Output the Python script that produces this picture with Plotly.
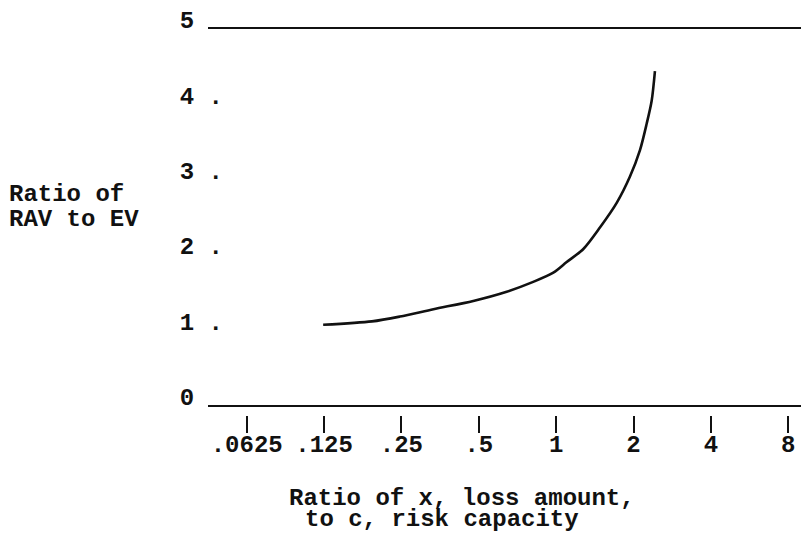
import math
import plotly.graph_objects as go

# Data
loss_ratio = [0.124, 0.192, 0.247, 0.333, 0.476, 0.642, 0.814, 0.975, 1.099,
              1.276, 1.48, 1.72, 1.937, 2.119, 2.25, 2.353, 2.423]
rav_to_ev = [1.07, 1.115, 1.18, 1.277, 1.387, 1.509, 1.64, 1.762, 1.903,
             2.077, 2.362, 2.69, 3.04, 3.39, 3.74, 4.046, 4.44]

x_tickvals = [0.0625, 0.125, 0.25, 0.5, 1, 2, 4, 8]
x_ticktext = [".0625", ".125", ".25", ".5", "1", "2", "4", "8"]
y_tickvals = [0, 1, 2, 3, 4, 5]
y_ticktext = ["0\u00a0\u00a0", "1 .", "2 .", "3 .", "4 .", "5\u00a0\u00a0"]

y_title_lines = ["Ratio of", "RAV to EV"]
x_title_lines = ["Ratio of x, loss amount,", "to c, risk capacity"]

FONT = "Liberation Mono"
FS = 24
INK = "#111111"

OFF = 8          # page body margin in the browser
LABEL_LIFT = 9   # typed labels sit a little above their values
W, H = 809 - OFF, 535 - OFF
PAPER_BOTTOM_PAGE = 435
ML, MR, MT = 208 - OFF, 0, 24 - OFF - LABEL_LIFT
MB = OFF + H - PAPER_BOTTOM_PAGE
plot_h = H - MT - MB

def to_paper(page_py):
    return (PAPER_BOTTOM_PAGE - page_py) / plot_h

dom_lo = to_paper(405)
dom_hi = to_paper(24)
lab_lo = to_paper(405 - LABEL_LIFT)
lab_hi = to_paper(24 - LABEL_LIFT)
x2_pos = to_paper(415)

xr = [math.log10(2) * -4.5, math.log10(2) * 3.268]

fig = go.Figure()
fig.add_trace(go.Scatter(
    x=loss_ratio, y=rav_to_ev, mode="lines",
    line=dict(color=INK, width=2.6, shape="spline", smoothing=0.8),
    hoverinfo="skip", showlegend=False,
))
# invisible traces so the tick / label axes are drawn
fig.add_trace(go.Scatter(x=[loss_ratio[0]], y=[rav_to_ev[0]], xaxis="x2",
                         mode="markers", marker=dict(opacity=0),
                         hoverinfo="skip", showlegend=False))
fig.add_trace(go.Scatter(x=[loss_ratio[0]], y=[rav_to_ev[0]], yaxis="y2",
                         mode="markers", marker=dict(opacity=0),
                         hoverinfo="skip", showlegend=False))

tfont = dict(family=FONT, size=FS, color=INK, weight="bold")
fig.update_layout(
    width=W, height=H,
    margin=dict(l=ML, r=MR, t=MT, b=MB, pad=0),
    paper_bgcolor="white", plot_bgcolor="rgba(0,0,0,0)",
    showlegend=False,
    xaxis=dict(type="log", range=xr, showline=True, mirror=True,
               linecolor=INK, linewidth=2, ticks="", showticklabels=False,
               showgrid=False, zeroline=False),
    xaxis2=dict(type="log", range=xr, overlaying="x", anchor="free",
                position=x2_pos, side="bottom", showline=False,
                tickmode="array", tickvals=x_tickvals, ticktext=x_ticktext,
                ticks="outside", ticklen=17, tickwidth=2, tickcolor=INK,
                tickfont=tfont, ticklabelstandoff=-10,
                ticklabeloverflow="allow",
                showgrid=False, zeroline=False),
    yaxis=dict(range=[0, 5], domain=[dom_lo, dom_hi], showline=False,
               showticklabels=False, ticks="", showgrid=False, zeroline=False),
    yaxis2=dict(range=[0, 5], domain=[lab_lo, lab_hi], anchor="x",
                showline=False, tickmode="array", tickvals=y_tickvals,
                ticktext=y_ticktext, ticks="", showgrid=False, zeroline=False,
                tickfont=tfont, ticklabelstandoff=-16,
                ticklabeloverflow="allow"),
)

def px_to_paper_x(px):
    return (px - OFF - ML) / (W - ML - MR)

for txt, py in zip(y_title_lines, [192, 217]):
    fig.add_annotation(text=txt, xref="paper", yref="paper",
                       x=px_to_paper_x(7), y=to_paper(py),
                       xanchor="left", yanchor="middle", showarrow=False,
                       font=tfont)
for txt, px, py in zip(x_title_lines, [287, 303], [499, 521]):
    fig.add_annotation(text=txt, xref="paper", yref="paper",
                       x=px_to_paper_x(px), y=to_paper(py),
                       xanchor="left", yanchor="middle", showarrow=False,
                       font=tfont)

fig.write_html("out.html")
